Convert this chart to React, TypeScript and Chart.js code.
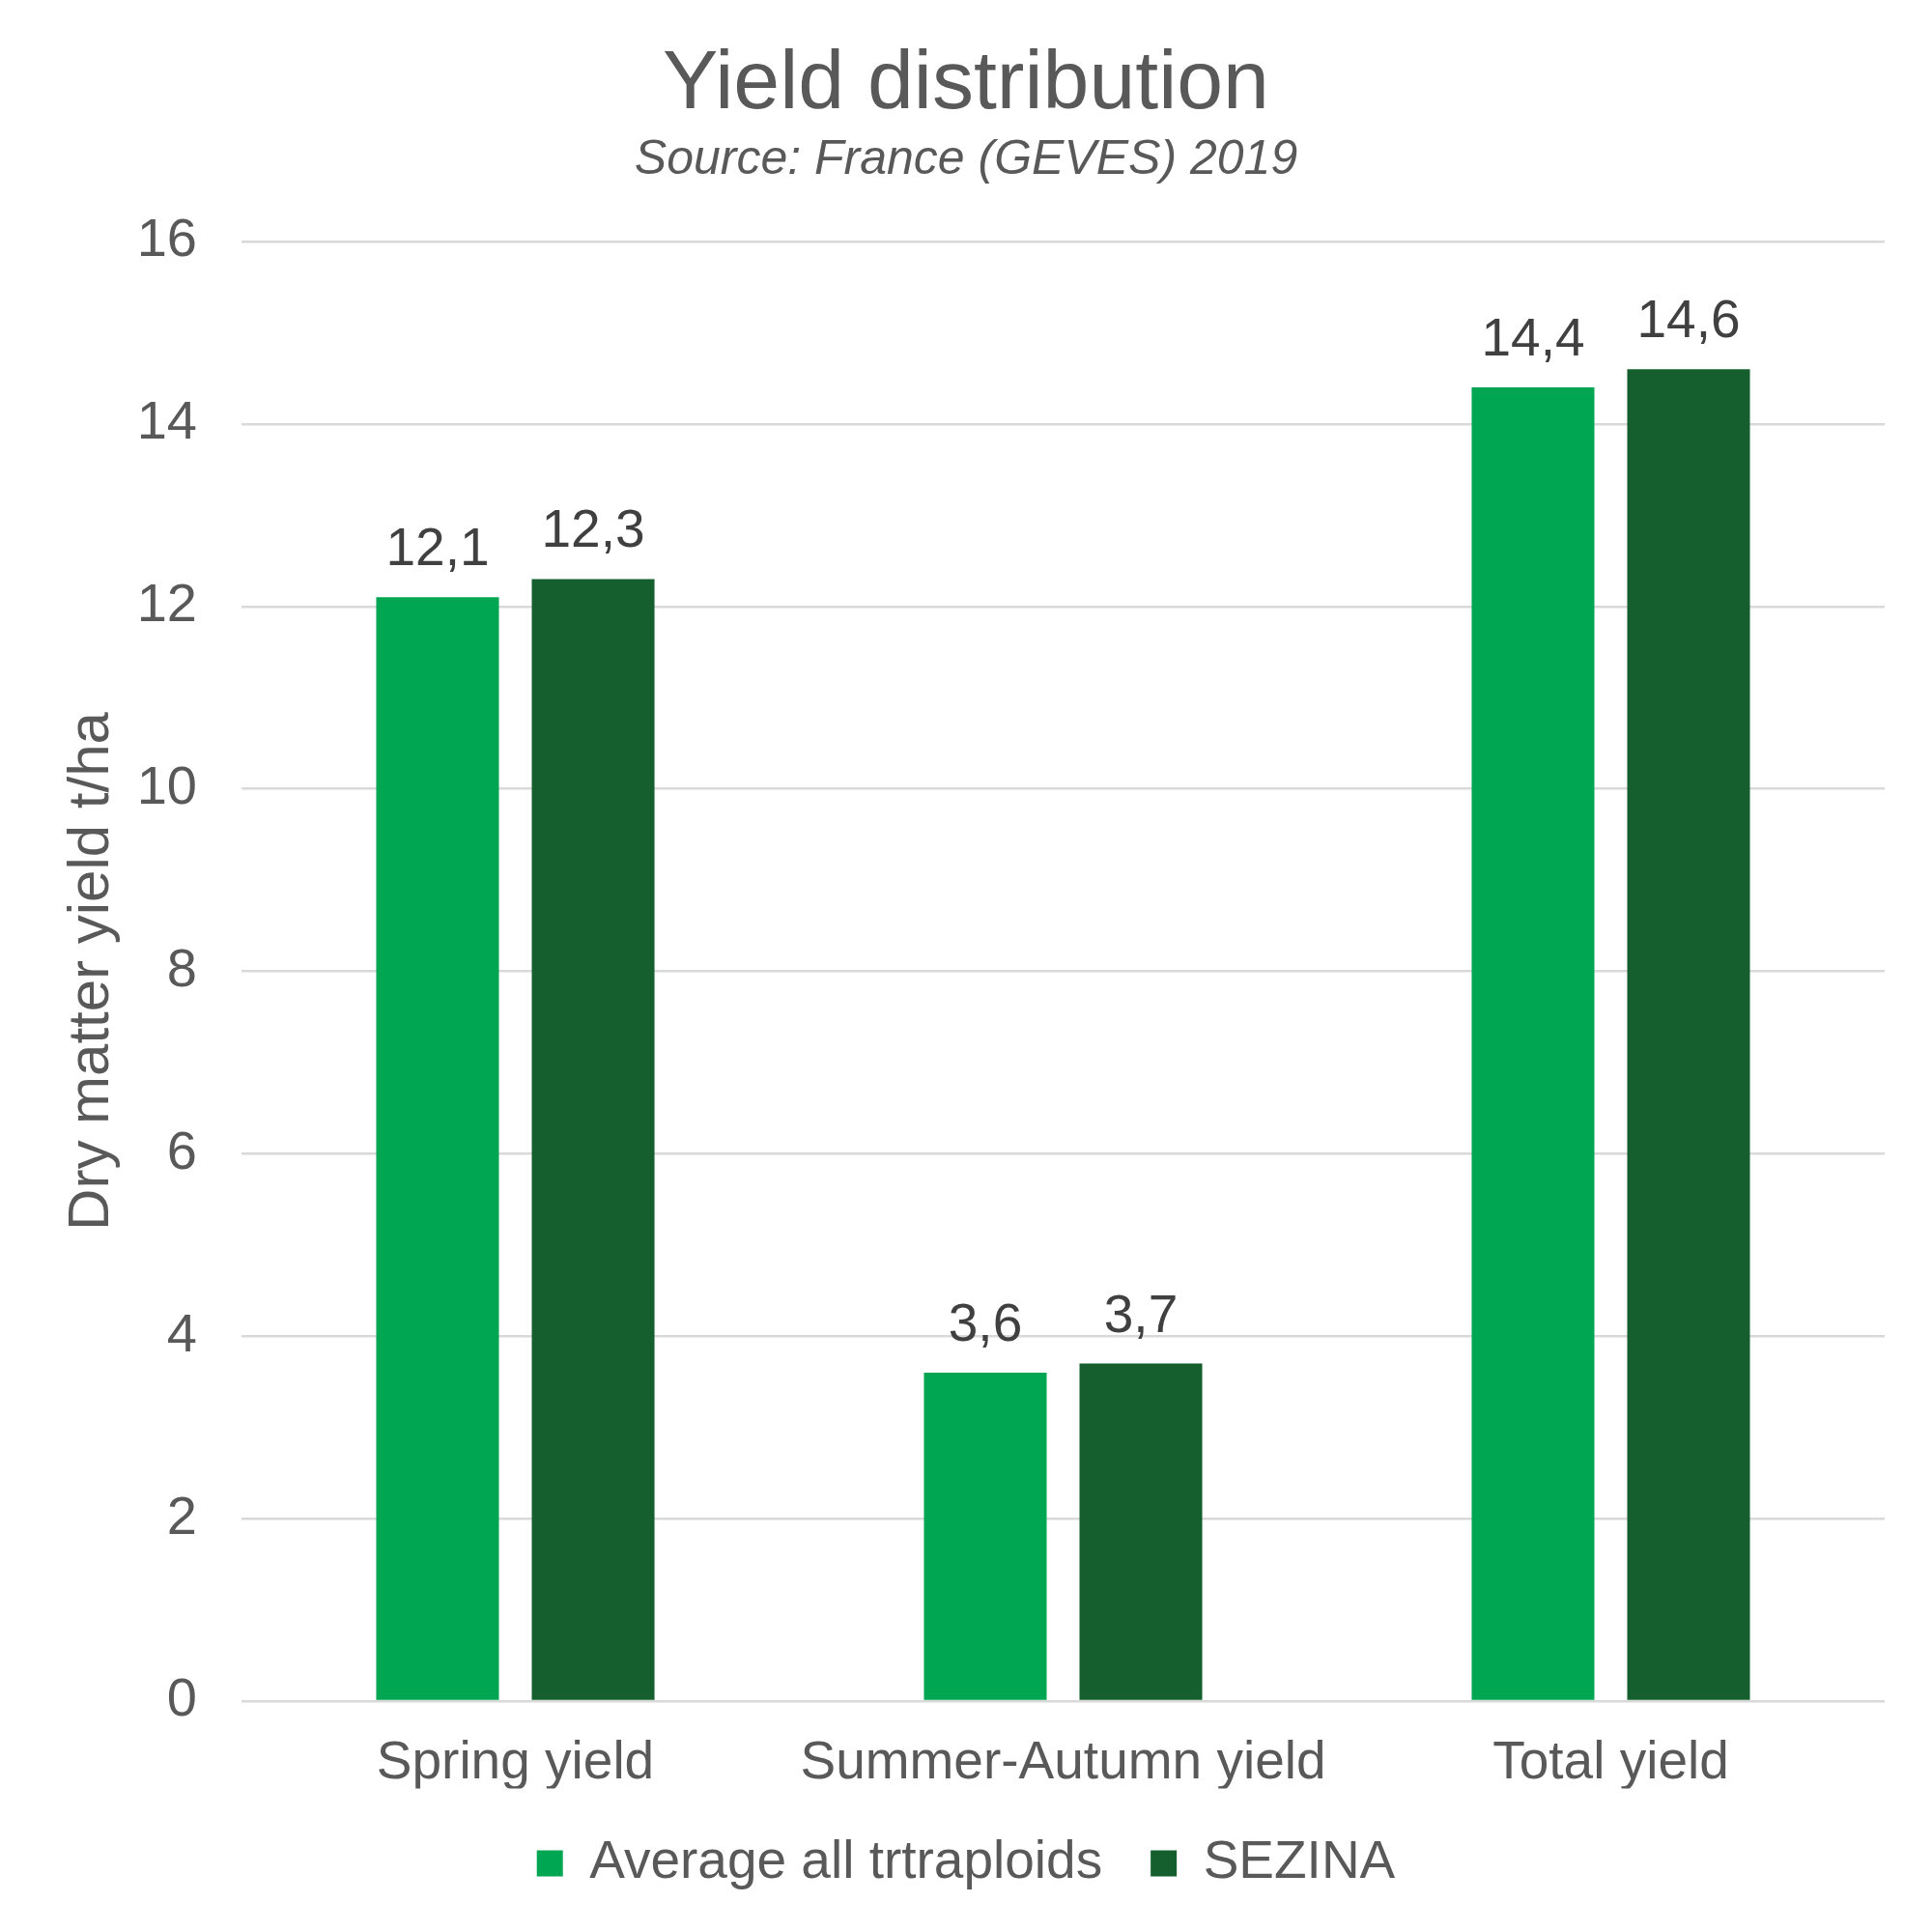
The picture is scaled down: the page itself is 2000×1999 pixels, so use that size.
import React, { useEffect, useRef } from "react";
import { Chart, registerables } from "chart.js";

Chart.register(...registerables);

const categories = ["Spring yield", "Summer-Autumn yield", "Total yield"];
const averageTetraploids = [12.1, 3.6, 14.4];
const sezina = [12.3, 3.7, 14.6];
const seriesNames = ["Average all trtraploids", "SEZINA"];
const yTicks = [0, 2, 4, 6, 8, 10, 12, 14, 16];

const FONT = '"Liberation Sans", Arial, sans-serif';
const GREEN = "#00A651";
const DARK_GREEN = "#145F2D";
const TEXT = "#595959";
const LABEL = "#404040";

const fmt = (v: number) => v.toFixed(1).replace(".", ",");

const valueLabels = {
  id: "valueLabels",
  afterDatasetsDraw(chart: any) {
    const ctx = chart.ctx;
    ctx.save();
    ctx.font = `55px ${FONT}`;
    ctx.fillStyle = LABEL;
    ctx.textAlign = "center";
    ctx.textBaseline = "alphabetic";
    chart.data.datasets.forEach((ds: any, i: number) => {
      const meta = chart.getDatasetMeta(i);
      meta.data.forEach((bar: any, j: number) => {
        ctx.fillText(fmt(ds.data[j]), bar.x, bar.y - 33);
      });
    });
    ctx.restore();
  },
};

export default function App() {
  const ref = useRef<HTMLCanvasElement>(null);

  useEffect(() => {
    if (!ref.current) return;
    const chart = new Chart(ref.current, {
      type: "bar",
      data: {
        labels: categories,
        datasets: [
          {
            label: seriesNames[0],
            data: averageTetraploids,
            backgroundColor: GREEN,
            categoryPercentage: 0.568,
            barPercentage: 0.789,
            yAxisID: "y",
          },
          {
            label: seriesNames[1],
            data: sezina,
            backgroundColor: DARK_GREEN,
            categoryPercentage: 0.568,
            barPercentage: 0.789,
            yAxisID: "y",
          },
        ],
      },
      options: {
        responsive: false,
        animation: false,
        devicePixelRatio: 1,
        layout: { padding: { top: 0, left: 0, right: 0, bottom: 32.5 } },
        plugins: {
          title: {
            display: true,
            text: "Yield distribution",
            color: TEXT,
            font: { family: FONT, size: 86, weight: "normal", lineHeight: 1.1 },
            padding: { top: 41, bottom: 0 },
          },
          subtitle: {
            display: true,
            text: "Source: France (GEVES) 2019",
            color: TEXT,
            font: { family: FONT, size: 50, style: "italic", weight: "normal", lineHeight: 1.2 },
            padding: { top: 0, bottom: 54.4 },
          },
          legend: {
            display: true,
            position: "bottom",
            labels: {
              color: TEXT,
              font: { family: FONT, size: 55 },
              boxWidth: 27,
              boxHeight: 27,
              padding: 50,
            },
          },
          tooltip: { enabled: false },
        },
        scales: {
          x: {
            grid: { display: false, drawTicks: false },
            border: { display: false },
            ticks: {
              color: TEXT,
              font: { family: FONT, size: 55 },
              padding: 32,
              maxRotation: 0,
            },
            afterFit(scale: any) {
              scale.height = 90.5;
            },
          },
          y: {
            position: "left",
            min: 0,
            max: 16,
            afterBuildTicks(scale: any) {
              scale.ticks = yTicks.map((v) => ({ value: v }));
            },
            grid: { color: "#D9D9D9", lineWidth: 2.5, drawTicks: false },
            border: { display: false },
            ticks: {
              color: TEXT,
              font: { family: FONT, size: 56 },
              padding: 46,
            },
            title: {
              display: true,
              text: "Dry matter yield t/ha",
              color: TEXT,
              font: { family: FONT, size: 60 },
              padding: { top: 59, bottom: 0 },
            },
            afterFit(scale: any) {
              scale.width = 250;
            },
          },
          yRight: {
            type: "linear",
            position: "right",
            display: true,
            min: 0,
            max: 16,
            grid: { display: false, drawTicks: false },
            border: { display: false },
            ticks: { display: false },
            afterFit(scale: any) {
              scale.width = 49;
            },
          },
        },
      },
      plugins: [valueLabels],
    });
    return () => chart.destroy();
  }, []);

  return (
    <div style={{ position: "absolute", left: 0, top: 0, width: 2000, height: 1999, background: "#fff" }}>
      <canvas ref={ref} width={2000} height={1999} />
    </div>
  );
}
